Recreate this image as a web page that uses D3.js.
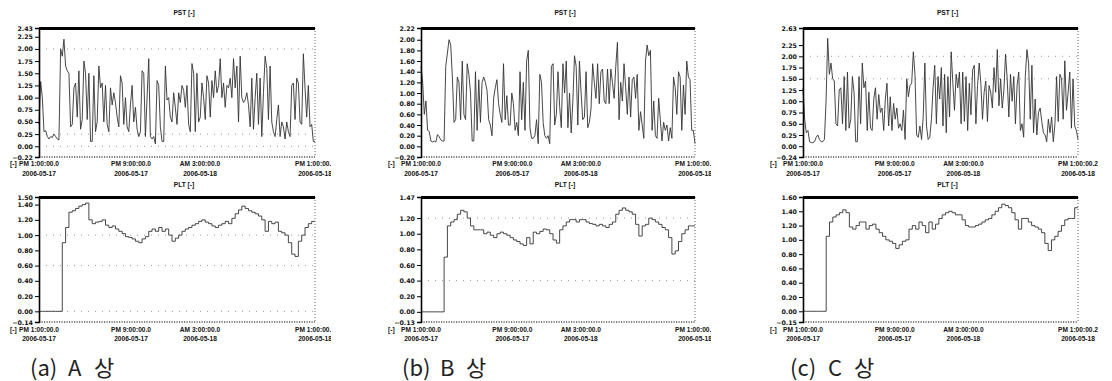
<!DOCTYPE html>
<html><head><meta charset="utf-8">
<script src="https://cdn.jsdelivr.net/npm/d3@7"></script>
<style>
body{margin:0;background:#fff;}
svg{display:block;}
</style></head><body>
<svg id="c" width="1112" height="381"></svg>
<script>
// ---------- data ----------
const tickHours = [0, 8, 14, 24];
const tickTime = ["PM 1:00:00.0", "PM 9:00:00.0", "AM 3:00:00.0", "PM 1:00:00.2"];
const tickDate = ["2006-05-17", "2006-05-17", "2006-05-18", "2006-05-18"];
const spanHours = 24;

const pstTicksA = [-0.22, 0.00, 0.25, 0.50, 0.75, 1.00, 1.25, 1.50, 1.75, 2.00, 2.25, 2.43];
const pstTicksB = [-0.20, 0.00, 0.20, 0.40, 0.60, 0.80, 1.00, 1.20, 1.40, 1.60, 1.80, 2.00, 2.22];
const pstTicksC = [-0.24, 0.00, 0.25, 0.50, 0.75, 1.00, 1.25, 1.50, 1.75, 2.00, 2.25, 2.63];
const pltTicksA = [-0.14, 0.00, 0.20, 0.40, 0.60, 0.80, 1.00, 1.20, 1.40, 1.50];
const pltTicksB = [-0.13, 0.00, 0.20, 0.40, 0.60, 0.80, 1.00, 1.20, 1.47];
const pltTicksC = [-0.15, 0.00, 0.20, 0.40, 0.60, 0.80, 1.00, 1.20, 1.40, 1.60];

const pstGridA = [2.00, 0.25, 0.00];
const pstGridB = [];
const pstGridC = [2.00, 1.50];
const pltGridA = [1.00, 0.60, 0.00];
const pltGridB = [1.20, 0.40];
const pltGridC = [];

const pstA = [0.45,1.33,1.0,0.3,0.32,0.2,0.15,0.2,0.18,0.25,0.2,0.15,0.13,
 2.0,1.85,2.2,1.65,1.55,1.5,
 0.4,0.45,1.2,1.3,0.6,1.55,0.35,0.55,1.75,1.5,0.55,1.5,0.1,0.1,1.45,0.3,0.5,1.65,1.2,1.3,0.5,1.25,0.45,0.3,1.2,0.85,1.1,0.9,0.6,0.4,1.45,1.3,0.45,1.0,0.4,0.3,0.85,1.25,0.5,0.8,0.35,0.2,0.3,1.55,1.5,0.2,1.0,1.8,0.2,0.15,0.2,0.05,1.35,1.25,0.4,0.1,0.1,1.65,0.95,1.0,0.6,0.5,1.1,0.8,0.45,1.1,0.9,1.25,1.15,0.8,1.25,0.45,0.3,1.7,1.5,0.3,1.5,0.5,0.6,1.3,1.0,0.55,1.45,1.3,0.6,1.35,1.0,1.55,1.1,1.25,1.8,1.0,1.3,0.8,1.25,1.2,1.4,1.0,1.8,1.2,1.65,0.5,1.85,1.0,0.9,0.95,1.1,0.85,0.4,1.4,0.35,1.0,1.5,0.45,1.4,0.2,1.1,1.85,1.6,0.55,1.65,0.5,0.3,0.2,0.55,0.85,0.2,0.5,0.4,0.15,0.5,0.3,0.2,1.25,1.3,0.55,1.4,1.3,0.5,0.45,1.9,1.2,0.6,1.25,0.4,0.45,0.1,0.1];

const pstB = [1.5,1.2,0.6,0.85,0.3,0.28,0.1,0.08,0.1,0.08,0.22,0.18,0.12,0.1,0.1,1.5,1.75,2.0,1.9,1.3,0.45,0.5,1.3,1.2,0.5,1.6,0.6,0.5,1.55,1.35,1.0,0.1,0.1,1.4,0.3,1.25,0.45,1.2,1.3,1.2,1.05,0.5,0.4,0.2,0.9,1.1,1.25,0.8,0.6,0.45,1.55,0.5,0.95,0.4,0.4,1.0,0.8,0.3,0.45,0.2,1.4,0.5,1.2,0.3,1.6,1.8,0.35,0.15,0.15,0.2,0.5,0.05,1.35,1.2,0.45,0.2,0.15,0.2,0.05,1.5,1.55,0.4,0.6,1.4,0.75,0.35,1.55,1.0,1.6,0.35,1.0,0.25,0.85,1.7,1.5,0.4,1.6,1.0,0.5,0.55,1.4,0.35,0.45,0.7,1.55,1.2,0.9,1.55,0.8,1.4,1.45,0.85,0.8,1.45,0.8,1.45,1.2,0.9,1.5,1.95,0.5,1.2,0.85,1.55,1.1,0.6,1.3,0.55,1.25,1.3,0.9,1.35,0.3,0.65,0.4,0.15,1.6,1.9,1.7,1.8,0.3,0.85,0.2,0.15,0.9,0.5,0.1,0.45,0.3,0.4,0.1,0.35,0.15,1.3,1.1,0.6,1.4,1.3,0.3,1.15,0.6,1.6,1.3,1.25,0.3,0.3,0.05];

const pstC = [1.3,0.6,0.3,0.35,0.1,0.08,0.08,0.1,0.2,0.25,0.15,0.1,0.1,0.15,1.0,2.4,1.6,1.85,1.5,1.45,0.5,0.45,1.25,1.3,0.5,1.55,0.35,1.65,0.4,0.6,1.55,1.2,0.1,0.1,1.55,0.5,1.85,1.3,1.45,0.35,1.2,0.4,0.35,1.05,1.3,0.6,1.15,0.75,0.85,0.35,1.05,1.4,0.45,1.1,0.35,0.95,0.6,0.85,0.4,0.5,0.35,0.8,0.15,1.5,1.1,1.35,1.4,2.1,1.6,0.25,0.2,0.45,0.15,0.65,1.85,0.45,0.15,0.2,0.6,1.3,1.8,0.5,1.55,1.05,1.75,0.45,1.6,0.3,1.55,0.65,2.1,1.4,0.8,1.6,1.3,1.65,0.5,1.65,0.55,1.55,0.35,1.4,0.7,1.7,1.8,0.5,1.35,1.85,1.4,0.6,1.2,1.45,0.55,1.35,1.2,0.85,1.75,1.2,2.15,0.9,1.5,0.85,1.25,2.05,1.5,0.65,1.6,1.0,1.55,0.5,1.35,1.65,0.35,0.5,0.2,1.55,2.15,1.85,0.6,1.8,0.3,1.05,0.25,0.75,0.85,0.55,0.3,0.25,0.1,0.6,0.3,0.65,0.1,0.5,1.55,0.55,1.6,1.5,0.6,1.9,0.8,1.2,1.65,0.4,1.5,0.45,0.35,0.15];

const pltA = [0,0,0,0,0,0,0,0.9,1.1,1.3,1.32,1.35,1.38,1.4,1.42,1.2,1.15,1.17,1.18,1.2,1.13,1.1,1.12,1.08,1.05,1.02,0.98,0.97,0.95,0.92,0.9,0.95,0.98,1.05,1.08,1.05,1.1,1.05,1.08,1.0,0.92,0.96,1.0,1.05,1.08,1.1,1.13,1.15,1.18,1.2,1.17,1.15,1.12,1.1,1.13,1.15,1.18,1.15,1.22,1.28,1.33,1.38,1.35,1.32,1.3,1.28,1.25,1.2,1.05,1.18,1.15,1.17,1.05,1.03,1.0,0.9,0.75,0.72,0.92,1.0,1.1,1.15,1.18,1.18];

const pltB = [0,0,0,0,0,0,0,0.7,1.1,1.15,1.18,1.25,1.3,1.28,1.2,1.1,1.05,1.05,1.05,1.0,1.02,0.98,0.95,1.0,1.02,1.0,0.98,0.95,0.92,0.9,0.87,0.85,0.95,0.87,1.02,1.0,1.03,1.06,1.05,1.0,0.92,0.88,1.05,1.1,1.15,1.18,1.18,1.15,1.18,1.18,1.15,1.13,1.12,1.1,1.12,1.1,1.08,1.12,1.15,1.25,1.3,1.33,1.3,1.28,1.25,1.12,0.97,1.1,1.12,1.2,1.18,1.15,1.12,1.08,1.05,0.95,0.74,0.78,0.9,1.0,1.05,1.1,1.1,1.1];

const pltC = [0,0,0,0,0,0,0,1.05,1.25,1.32,1.35,1.38,1.42,1.38,1.18,1.15,1.2,1.25,1.25,1.15,1.2,1.22,1.15,1.1,1.05,1.0,0.98,0.95,0.88,0.93,0.98,1.0,1.15,1.2,1.15,1.25,1.2,1.1,1.25,1.15,1.22,1.3,1.35,1.38,1.4,1.38,1.35,1.35,1.28,1.2,1.18,1.18,1.2,1.22,1.25,1.28,1.3,1.35,1.4,1.45,1.5,1.48,1.45,1.38,1.28,1.15,1.3,1.3,1.25,1.2,1.18,1.15,1.1,0.95,0.85,1.0,1.05,1.12,1.2,1.28,1.3,1.3,1.45,1.45];

const captionParts = [["(a)", "A", "상"], ["(b)", "B", "상"], ["(c)", "C", "상"]];
const titles = ["PST [-]", "PLT [-]"];
const unitLabel = "[-]";

// ---------- layout ----------
const cols = [
  {left: 39, right: 315, clipX: 0, clipW: 331, unitX: 10, capX: 30},
  {left: 421, right: 695, clipX: 366, clipW: 345, unitX: 388, capX: 402},
  {left: 803, right: 1078, clipX: 740, clipW: 372, unitX: 770, capX: 790}
];
const capOffsets = [0, 38, 64];
const rows = [
  {top: 28, bottom: 157, titleY: 15, lab1Y: 166, lab2Y: 176, step: false},
  {top: 197, bottom: 322, titleY: 187, lab1Y: 332, lab2Y: 341, step: true}
];
const panels = [
  {c: 0, r: 0, vals: pstA, ticks: pstTicksA, grid: pstGridA},
  {c: 1, r: 0, vals: pstB, ticks: pstTicksB, grid: pstGridB},
  {c: 2, r: 0, vals: pstC, ticks: pstTicksC, grid: pstGridC},
  {c: 0, r: 1, vals: pltA, ticks: pltTicksA, grid: pltGridA},
  {c: 1, r: 1, vals: pltB, ticks: pltTicksB, grid: pltGridB},
  {c: 2, r: 1, vals: pltC, ticks: pltTicksC, grid: pltGridC}
];

const svg = d3.select("#c");
const defs = svg.append("defs");
cols.forEach((c, i) => {
  defs.append("clipPath").attr("id", "clip" + i)
    .append("rect").attr("x", c.clipX).attr("y", 0).attr("width", c.clipW).attr("height", 381);
});
const colG = cols.map((c, i) => svg.append("g").attr("clip-path", `url(#clip${i})`));

const fmt = d3.format(".2f");
const labFont = '"Liberation Sans", Arial, sans-serif';

panels.forEach(p => {
  const c = cols[p.c], r = rows[p.r];
  const g = colG[p.c].append("g");
  const x = d3.scaleLinear().domain([0, spanHours]).range([c.left, c.right]);
  const y = d3.scaleLinear().domain([d3.min(p.ticks), d3.max(p.ticks)]).range([r.bottom, r.top]);

  // grid
  g.selectAll(".grid").data(p.grid).join("line")
    .attr("x1", c.left).attr("x2", c.right)
    .attr("y1", d => y(d)).attr("y2", d => y(d))
    .attr("stroke", "#9a9a9a").attr("stroke-width", 1).attr("stroke-dasharray", "1,6");

  // series
  const n = p.vals.length;
  const line = d3.line()
    .x((d, i) => x(i * spanHours / (n - 1)))
    .y(d => y(d))
    .curve(r.step ? d3.curveStepAfter : d3.curveLinear);
  g.append("path").datum(p.vals)
    .attr("d", line).attr("fill", "none")
    .attr("stroke", "#333").attr("stroke-width", 0.9);

  // borders
  g.append("line").attr("x1", c.left).attr("x2", c.right).attr("y1", r.bottom).attr("y2", r.bottom)
    .attr("stroke", "#555").attr("stroke-width", 1.6).attr("stroke-dasharray", "1.2,1.3");
  g.append("line").attr("x1", c.right).attr("x2", c.right).attr("y1", r.top).attr("y2", r.bottom)
    .attr("stroke", "#666").attr("stroke-width", 1).attr("stroke-dasharray", "1,2");
  g.append("line").attr("x1", c.left).attr("x2", c.right).attr("y1", r.top + 0.5).attr("y2", r.top + 0.5)
    .attr("stroke", "#000").attr("stroke-width", 3);

  // y axis
  const ax = g.append("g").attr("transform", `translate(${c.left},0)`)
    .call(d3.axisLeft(y).tickValues(p.ticks).tickFormat(fmt).tickSize(4).tickPadding(2));
  ax.select(".domain").attr("stroke", "#000").attr("stroke-width", 1.6);
  ax.selectAll(".tick line").attr("stroke", "#000").attr("stroke-width", 1);
  ax.selectAll(".tick text").attr("font-family", '"DejaVu Sans", sans-serif')
    .attr("font-weight", "bold").attr("font-size", 6.3).attr("fill", "#111");

  // x labels
  const xl = g.selectAll(".xl").data(tickHours).join("text")
    .attr("text-anchor", "middle").attr("font-family", labFont)
    .attr("font-weight", "bold").attr("font-size", 6.6).attr("fill", "#111");
  xl.append("tspan").attr("x", d => x(d)).attr("y", r.lab1Y).text((d, i) => tickTime[i]);
  xl.append("tspan").attr("x", d => x(d)).attr("y", r.lab2Y).text((d, i) => tickDate[i]);

  // unit label
  g.append("text").attr("x", c.unitX).attr("y", r.lab1Y)
    .attr("font-family", labFont).attr("font-weight", "bold").attr("font-size", 6.6)
    .attr("fill", "#111").text(unitLabel);

  // title
  g.append("text").attr("x", (c.left + c.right) / 2 + 7).attr("y", r.titleY)
    .attr("text-anchor", "middle").attr("font-family", labFont)
    .attr("font-weight", "bold").attr("font-size", 6.6).attr("fill", "#111").text(titles[p.r]);
});

// captions
cols.forEach((c, i) => {
  const t = svg.append("text").attr("y", 376)
    .attr("font-family", '"Noto Sans CJK KR", "Noto Sans", sans-serif')
    .attr("font-size", 22).attr("fill", "#222");
  captionParts[i].forEach((s, k) => {
    t.append("tspan").attr("x", c.capX + capOffsets[k]).text(s);
  });
});
</script>
</body></html>
